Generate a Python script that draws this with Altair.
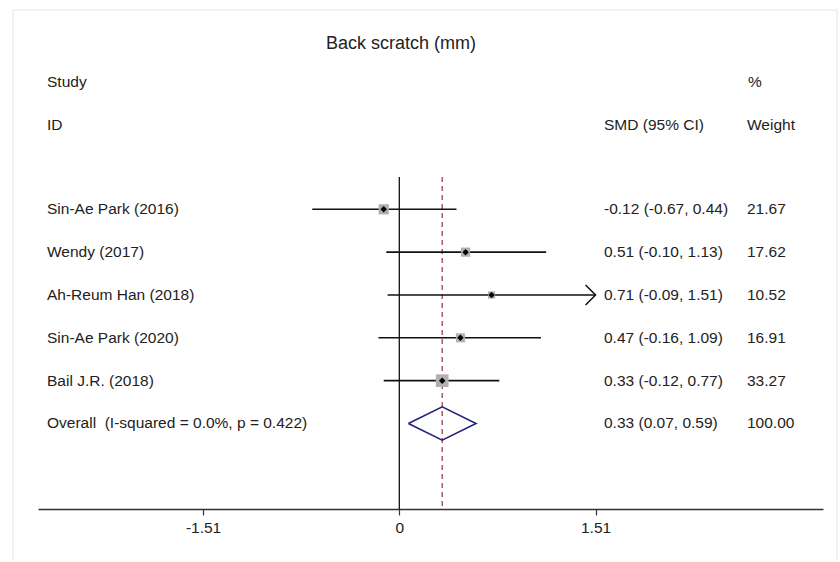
import altair as alt
import pandas as pd

# ---- data ----
studies = ["Sin-Ae Park (2016)", "Wendy (2017)", "Ah-Reum Han (2018)",
           "Sin-Ae Park (2020)", "Bail J.R. (2018)"]
smd = [-0.12, 0.51, 0.71, 0.47, 0.33]
ci_lo = [-0.67, -0.10, -0.09, -0.16, -0.12]
ci_hi = [0.44, 1.13, 1.51, 1.09, 0.77]
weights = [21.67, 17.62, 10.52, 16.91, 33.27]

overall_label = "Overall\u00a0 (I-squared = 0.0%, p = 0.422)"
overall_smd = 0.33
overall_lo = 0.07
overall_hi = 0.59
overall_weight = 100.00

axis_ticks = [-1.51, 0, 1.51]
x_limits = [-2.78, 3.26]
clip_limit = 1.51

FONT = "Liberation Sans"
TXT = "#222222"
FS = 15.5

rows = list(range(1, len(studies) + 1))
df = pd.DataFrame({
    "row": rows, "study": studies, "smd": smd, "lo": ci_lo, "hi": ci_hi,
    "w": weights,
})
df["ci_text"] = [f"{s:.2f} ({l:.2f}, {h:.2f})" for s, l, h in zip(smd, ci_lo, ci_hi)]
df["w_text"] = [f"{w:.2f}" for w in weights]
df["box"] = [4.84 * w for w in weights]

ov_row = len(studies) + 1
text_df = pd.concat([
    df[["row", "study", "ci_text", "w_text"]],
    pd.DataFrame({"row": [ov_row], "study": [overall_label],
                  "ci_text": [f"{overall_smd:.2f} ({overall_lo:.2f}, {overall_hi:.2f})"],
                  "w_text": [f"{overall_weight:.2f}"]}),
], ignore_index=True)

half = 0.39
diamond = pd.DataFrame({
    "x": [overall_lo, overall_smd, overall_hi, overall_smd, overall_lo],
    "y": [ov_row, ov_row - half, ov_row, ov_row + half, ov_row],
    "o": [0, 1, 2, 3, 4],
})

arrows = df[df["hi"] >= clip_limit]

xs = alt.Scale(domain=x_limits, nice=False, zero=False)
xax = alt.Axis(values=axis_ticks, title=None, grid=False, labelFont=FONT,
               labelFontSize=FS, labelColor=TXT, tickSize=6, tickColor="#333",
               tickWidth=1.2, domainColor="#333", domainWidth=1.5,
               labelPadding=5, labelExpr="'' + datum.value")
ys = alt.Scale(domain=[-3.886, 7.996], reverse=True, nice=False, zero=False)

def X(f):
    return alt.X(f, scale=xs, axis=xax)

def Y(f):
    return alt.Y(f, scale=ys, axis=None)

zero_line = alt.Chart(pd.DataFrame({"x": [0]})).mark_rule(
    color="#111", strokeWidth=1.3).encode(
    x=X("x:Q"), y=alt.value(177), y2=alt.value(509))

ov_line = alt.Chart(pd.DataFrame({"x": [overall_smd]})).mark_rule(
    color="#90353b", strokeWidth=1.2, strokeDash=[5, 4]).encode(
    x=X("x:Q"), y=alt.value(177), y2=alt.value(509))

ci = alt.Chart(df).mark_rule(color="#111", strokeWidth=1.6).encode(
    x=X("lo:Q"), x2="hi:Q", y=Y("row:Q"))

boxes = alt.Chart(df).mark_square(color="#b0b0b0", opacity=1).encode(
    x=X("smd:Q"), y=Y("row:Q"), size=alt.Size("box:Q", scale=None, legend=None))

dots = alt.Chart(df).mark_point(shape="diamond", filled=True, color="#000",
                                size=42, opacity=1).encode(
    x=X("smd:Q"), y=Y("row:Q"))

arrow = alt.Chart(arrows).mark_point(shape="M-1,-1L0,0L-1,1", filled=False,
                                     color="#111", strokeWidth=1.5, size=400,
                                     opacity=1).encode(
    x=X("hi:Q"), y=Y("row:Q"))

dia = alt.Chart(diamond).mark_line(color="#22227a", strokeWidth=1.6).encode(
    x=X("x:Q"), y=Y("y:Q"), order="o:Q")

def col_text(field, xpix):
    return alt.Chart(text_df).mark_text(
        align="left", baseline="middle", font=FONT, fontSize=FS, color=TXT
    ).encode(x=alt.value(xpix), y=Y("row:Q"), text=f"{field}:N")

t_study = col_text("study", 9)
t_ci = col_text("ci_text", 566)
t_w = col_text("w_text", 709)

headers_df = pd.DataFrame({
    "t": ["Study", "ID", "%", "SMD (95% CI)", "Weight"],
    "xp": [9, 9, 710, 566, 709],
    "yp": [82, 125, 82, 125, 125],
})
headers = alt.Chart(headers_df).mark_text(
    align="left", baseline="middle", font=FONT, fontSize=FS, color=TXT
).encode(x=alt.X("xp:Q", scale=None), y=alt.Y("yp:Q", scale=None), text="t:N")

title = alt.Chart(pd.DataFrame({"t": ["Back scratch (mm)"]})).mark_text(
    align="center", baseline="middle", font=FONT, fontSize=18, color=TXT
).encode(x=alt.value(363), y=alt.value(44), text="t:N")

frame = alt.Chart(pd.DataFrame({"k": [0]})).mark_rule(
    color="#e6eaea", strokeWidth=1.2)
frame_l = frame.encode(x=alt.value(-25), y=alt.value(10), y2=alt.value(560))
frame_t = frame.encode(x=alt.value(-25), x2=alt.value(799), y=alt.value(10))
frame_r = frame.encode(x=alt.value(799), y=alt.value(10), y2=alt.value(560))

chart = alt.layer(
    frame_l, frame_t, frame_r,
    zero_line, ov_line, ci, boxes, dots, arrow, dia,
    t_study, t_ci, t_w, headers, title,
).properties(
    width=785, height=509,
    autosize=alt.AutoSizeParams(type="none"),
    padding={"left": 38, "top": 0, "right": 17, "bottom": 53},
    background="white",
).configure_view(stroke=None)

chart.save("out.html", embed_options={"renderer": "svg", "actions": False})
